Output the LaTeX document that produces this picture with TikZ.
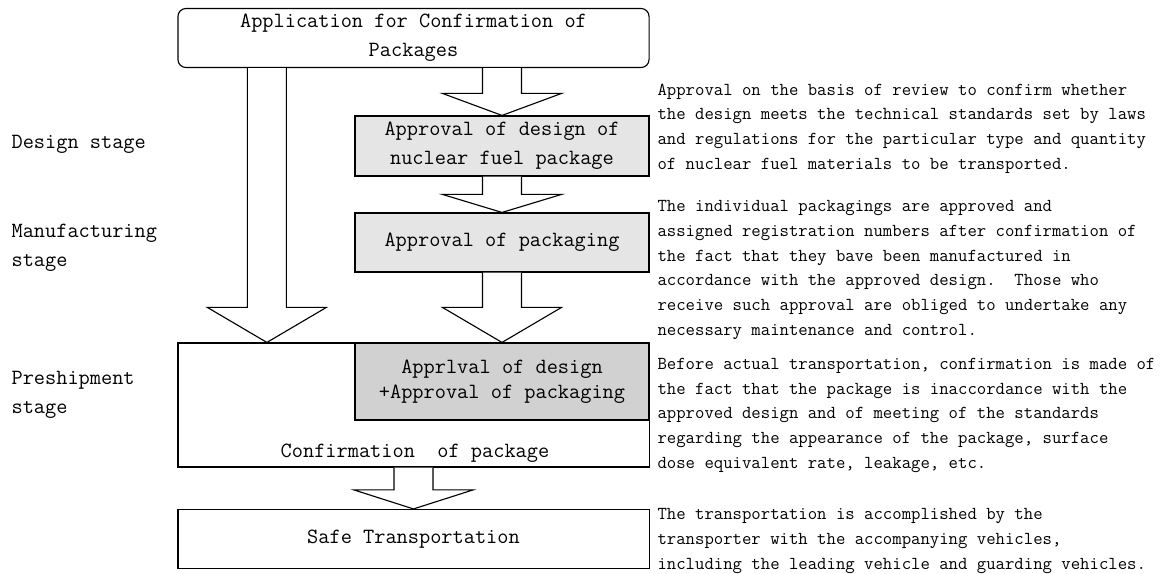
\documentclass[tikz,border=0pt]{standalone}
\usepackage{fontspec}
\usetikzlibrary{calc}
\definecolor{lightbox}{gray}{0.9}
\definecolor{darkbox}{gray}{0.82}
\newcommand{\boxfont}{\ttfamily\fontsize{15.45}{20.6}\selectfont}
\newcommand{\notefont}{\ttfamily\fontsize{12.97}{17.5}\selectfont}

\begin{document}
\begin{tikzpicture}[x=0.025cm,y=-0.025cm,line width=0.8pt,
    bigbox/.style={draw,minimum width=11.775cm,minimum height=1.475cm,inner sep=0pt,align=center,font=\boxfont},
    grybox/.style={draw,fill=lightbox,minimum width=7.35cm,minimum height=1.5cm,inner sep=0pt,align=center,font=\boxfont},
    fat/.style={draw,fill=white},
    note/.style={anchor=base west,align=left,inner sep=0pt,font=\notefont},
    stage/.style={anchor=base west,align=left,inner sep=0pt,font=\boxfont}]
  \useasboundingbox (0,0) rectangle (1172,573);
  %%%%%%%%%%%%%%%%%%%%%%%%%% boxes %%%%%%%%%%%%%%%%%%%%%%%%%%
  \node[bigbox,rounded corners=0.2cm] (app) at (413.5,38) {Application for Confirmation of\\Packages};
  \node[grybox] (design) at (502,146) {Approval of design of\\nuclear fuel package};
  \node[grybox,minimum height=1.475cm] (pack) at (502,242.5) {Approval of packaging};
  \node[bigbox,minimum height=3.1cm] (conf) at (413.5,405) {};
  \node[grybox,fill=darkbox,minimum height=1.925cm,font=\ttfamily\fontsize{15.45}{17.8}\selectfont] (both) at (502,381.5)
    {Apprlval of design\\+Approval of packaging};
  \node[font=\boxfont,anchor=base] (conftxt) at (415,457) {Confirmation\ \ of package};
  \node[bigbox] (safe) at (413.5,539) {Safe Transportation};

  %%%%%%%%%%%%%%%%%%%%%%%%%% arrows %%%%%%%%%%%%%%%%%%%%%%%%%
  \coordinate (ltip) at ($(conf.north west)+(89.5,0)$);
  \draw[fat] ($(app.south -| ltip)+(-19.5,0)$) |- ($(ltip)+(-59.5,-35)$) -- (ltip)
    -- ($(ltip)+(59.5,-35)$) -| ($(app.south -| ltip)+(19.5,0)$);
  \draw[fat] ($(app.south -| design)+(-19.5,0)$) |- ($(design.north)+(-59.5,-22)$) -- (design.north)
    -- ($(design.north)+(59.5,-22)$) -| ($(app.south -| design)+(19.5,0)$);
  \draw[fat] ($(design.south)+(-19.5,0)$) |- ($(pack.north)+(-59.5,-18)$) -- (pack.north)
    -- ($(pack.north)+(59.5,-18)$) -| ($(design.south)+(19.5,0)$);
  \draw[fat] ($(pack.south)+(-19.5,0)$) |- ($(both.north)+(-59.5,-35)$) -- (both.north)
    -- ($(both.north)+(59.5,-35)$) -| ($(pack.south)+(19.5,0)$);
  \draw[fat] ($(conf.south)+(-19.5,0)$) |- ($(safe.north)+(-59.5,-19)$) -- (safe.north)
    -- ($(safe.north)+(59.5,-19)$) -| ($(conf.south)+(19.5,0)$);

  %%%%%%%%%%%%%%%%%%%%%%%%%% stages %%%%%%%%%%%%%%%%%%%%%%%%%
  \node[stage] (s1) at (11,148) {Design stage};
  \node[stage] (s2) at (11,266) {Manufacturing\\stage};
  \node[stage] (s3) at (11,413) {Preshipment\\stage};

  %%%%%%%%%%%%%%%%%%%%%%%%%% notes %%%%%%%%%%%%%%%%%%%%%%%%%%
  \node[note] (n1) at (657,169) {Approval on the basis of review to confirm whether\\
    the design meets the technical standards set by laws\\
    and regulations for the particular type and quantity\\
    of nuclear fuel materials to be transported.};
  \node[note] (n2) at (657,335) {The individual packagings are approved and\\
    assigned registration numbers after confirmation of\\
    the fact that they bave been manufactured in\\
    accordance with the approved design.\ \ Those who\\
    receive such approval are obliged to undertake any\\
    necessary maintenance and control.};
  \node[note] (n3) at (657,468) {Before actual transportation, confirmation is made of\\
    the fact that the package is inaccordance with the\\
    approved design and of meeting of the standards\\
    regarding the appearance of the package, surface\\
    dose equivalent rate, leakage, etc.};
  \node[note] (n4) at (657,569) {The transportation is accomplished by the\\
    transporter with the accompanying vehicles,\\
    including the leading vehicle and guarding vehicles.};
\end{tikzpicture}
\end{document}
